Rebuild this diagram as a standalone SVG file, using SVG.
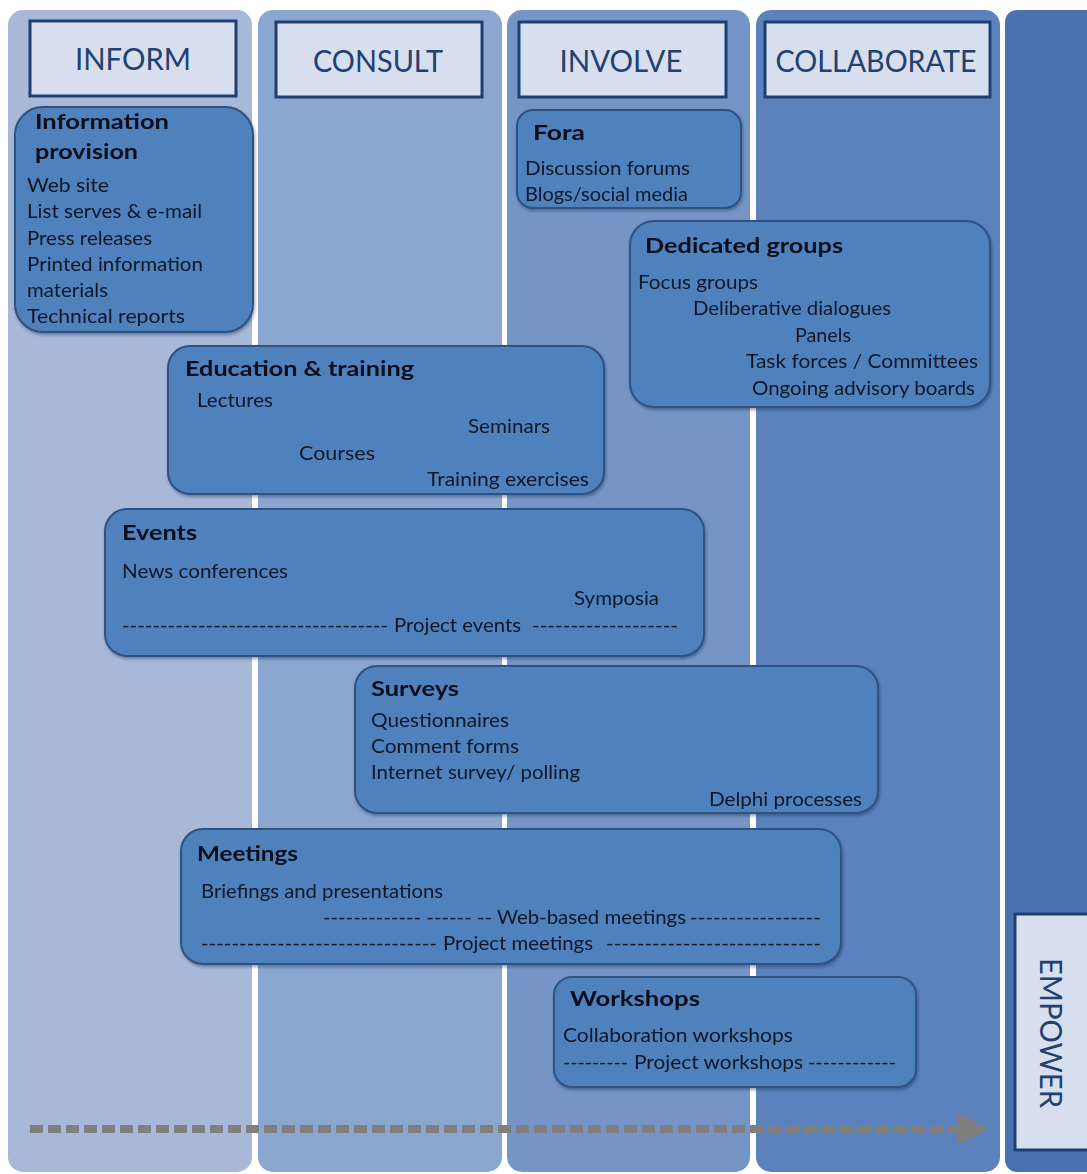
<svg xmlns="http://www.w3.org/2000/svg" width="1087" height="1174" viewBox="0 0 1087 1174">
<defs>
<style>
.hdr{fill:#d7dfee;stroke:#1f3f72;stroke-width:3}
.ht{font-family:Lato,"Open Sans",sans-serif;font-size:30px;fill:#23406e}
.box{fill:#4f81bd;stroke:#2e5283;stroke-width:2}
.t{font-family:Lato,"Open Sans",sans-serif;font-size:20px;fill:#101828}
.b{font-family:Lato,"Open Sans",sans-serif;font-size:21px;font-weight:700;fill:#0a0f1a}
</style>
<filter id="sh" x="-5%" y="-5%" width="110%" height="115%">
<feDropShadow dx="1" dy="2" stdDeviation="1.5" flood-color="#1a2f55" flood-opacity="0.45"/>
</filter>
<filter id="ash" x="-2%" y="-60%" width="104%" height="220%">
<feGaussianBlur stdDeviation="1.3"/>
</filter>
</defs>
<rect width="1087" height="1174" fill="#ffffff"/>
<g id="columns">
<rect x="8" y="10" width="244" height="1162" rx="15" fill="#a8b8d9"/>
<rect x="258" y="10" width="244" height="1162" rx="15" fill="#8ba6cf"/>
<rect x="507" y="10" width="243" height="1162" rx="15" fill="#7595c6"/>
<rect x="756" y="10" width="244" height="1162" rx="15" fill="#5b82bd"/>
<rect x="1005" y="10" width="110" height="1162" rx="12" fill="#4a72b0"/>
</g>
<g id="headers">
<g id="h-inform"><rect class="hdr" x="30" y="21" width="206" height="75"/><text class="ht" x="133" y="70" text-anchor="middle" textLength="116" lengthAdjust="spacingAndGlyphs">INFORM</text></g>
<g id="h-consult"><rect class="hdr" x="276" y="22" width="206" height="75"/><text class="ht" x="378" y="72" text-anchor="middle" textLength="130" lengthAdjust="spacingAndGlyphs">CONSULT</text></g>
<g id="h-involve"><rect class="hdr" x="519" y="22" width="207" height="75"/><text class="ht" x="621" y="72" text-anchor="middle" textLength="123" lengthAdjust="spacingAndGlyphs">INVOLVE</text></g>
<g id="h-collaborate"><rect class="hdr" x="765" y="22" width="225" height="75"/><text class="ht" x="876" y="72" text-anchor="middle" textLength="201" lengthAdjust="spacingAndGlyphs">COLLABORATE</text></g>
<g id="h-empower"><rect class="hdr" x="1015" y="914" width="90" height="236"/><text class="ht" transform="translate(1040,1033) rotate(90)" text-anchor="middle" textLength="150" lengthAdjust="spacingAndGlyphs">EMPOWER</text></g>
</g>
<g id="connectors">
<line x1="32" y1="1131" x2="960" y2="1131" stroke="#3a4f70" stroke-opacity="0.35" stroke-width="10" stroke-dasharray="13 5" filter="url(#ash)"/>
<line x1="30" y1="1129" x2="960" y2="1129" stroke="#7f7f7f" stroke-width="8" stroke-dasharray="13 5"/>
<polygon points="958,1113 989,1129 958,1145" fill="#7f7f7f"/>
</g>
<g id="n-info" filter="url(#sh)">
<rect class="box" x="15" y="107" width="238" height="225" rx="28"/>
<text class="b" x="35" y="129" textLength="134" lengthAdjust="spacingAndGlyphs">Information</text>
<text class="b" x="35" y="159" textLength="103" lengthAdjust="spacingAndGlyphs">provision</text>
<text class="t" x="27" y="192" textLength="82" lengthAdjust="spacingAndGlyphs">Web site</text>
<text class="t" x="27" y="218" textLength="175" lengthAdjust="spacingAndGlyphs">List serves &amp; e-mail</text>
<text class="t" x="27" y="245" textLength="125" lengthAdjust="spacingAndGlyphs">Press releases</text>
<text class="t" x="27" y="271" textLength="176" lengthAdjust="spacingAndGlyphs">Printed information</text>
<text class="t" x="27" y="297" textLength="81" lengthAdjust="spacingAndGlyphs">materials</text>
<text class="t" x="27" y="323" textLength="158" lengthAdjust="spacingAndGlyphs">Technical reports</text>
</g>
<g id="n-fora" filter="url(#sh)">
<rect class="box" x="517" y="110" width="224" height="98" rx="16"/>
<text class="b" x="533" y="140" textLength="52" lengthAdjust="spacingAndGlyphs">Fora</text>
<text class="t" x="525" y="175" textLength="165" lengthAdjust="spacingAndGlyphs">Discussion forums</text>
<text class="t" x="525" y="201" textLength="163" lengthAdjust="spacingAndGlyphs">Blogs/social media</text>
</g>
<g id="n-dedicated" filter="url(#sh)">
<rect class="box" x="630" y="221" width="360" height="186" rx="24"/>
<text class="b" x="645" y="253" textLength="198" lengthAdjust="spacingAndGlyphs">Dedicated groups</text>
<text class="t" x="638" y="289" textLength="120" lengthAdjust="spacingAndGlyphs">Focus groups</text>
<text class="t" x="693" y="315" textLength="198" lengthAdjust="spacingAndGlyphs">Deliberative dialogues</text>
<text class="t" x="795" y="342" textLength="56" lengthAdjust="spacingAndGlyphs">Panels</text>
<text class="t" x="746" y="368" textLength="232" lengthAdjust="spacingAndGlyphs">Task forces / Committees</text>
<text class="t" x="752" y="395" textLength="223" lengthAdjust="spacingAndGlyphs">Ongoing advisory boards</text>
</g>
<g id="n-education" filter="url(#sh)">
<rect class="box" x="168" y="346" width="436" height="148" rx="22"/>
<text class="b" x="185" y="376" textLength="229" lengthAdjust="spacingAndGlyphs">Education &amp; training</text>
<text class="t" x="197" y="407" textLength="76" lengthAdjust="spacingAndGlyphs">Lectures</text>
<text class="t" x="468" y="433" textLength="82" lengthAdjust="spacingAndGlyphs">Seminars</text>
<text class="t" x="299" y="460" textLength="76" lengthAdjust="spacingAndGlyphs">Courses</text>
<text class="t" x="427" y="486" textLength="162" lengthAdjust="spacingAndGlyphs">Training exercises</text>
</g>
<g id="n-events" filter="url(#sh)">
<rect class="box" x="105" y="509" width="599" height="147" rx="22"/>
<text class="b" x="122" y="540" textLength="75" lengthAdjust="spacingAndGlyphs">Events</text>
<text class="t" x="122" y="578" textLength="166" lengthAdjust="spacingAndGlyphs">News conferences</text>
<text class="t" x="574" y="605" textLength="85" lengthAdjust="spacingAndGlyphs">Symposia</text>
<text class="t" x="122" y="632" textLength="266" lengthAdjust="spacingAndGlyphs">-----------------------------------</text>
<text class="t" x="394" y="632" textLength="127" lengthAdjust="spacingAndGlyphs">Project events</text>
<text class="t" x="532" y="632" textLength="146" lengthAdjust="spacingAndGlyphs">-------------------</text>
</g>
<g id="n-surveys" filter="url(#sh)">
<rect class="box" x="355" y="666" width="523" height="147" rx="22"/>
<text class="b" x="371" y="696" textLength="88" lengthAdjust="spacingAndGlyphs">Surveys</text>
<text class="t" x="371" y="727" textLength="138" lengthAdjust="spacingAndGlyphs">Questionnaires</text>
<text class="t" x="371" y="753" textLength="148" lengthAdjust="spacingAndGlyphs">Comment forms</text>
<text class="t" x="371" y="779" textLength="209" lengthAdjust="spacingAndGlyphs">Internet survey/ polling</text>
<text class="t" x="709" y="806" textLength="153" lengthAdjust="spacingAndGlyphs">Delphi processes</text>
</g>
<g id="n-meetings" filter="url(#sh)">
<rect class="box" x="181" y="829" width="660" height="135" rx="22"/>
<text class="b" x="197" y="861" textLength="101" lengthAdjust="spacingAndGlyphs">Meetings</text>
<text class="t" x="201" y="898" textLength="242" lengthAdjust="spacingAndGlyphs">Briefings and presentations</text>
<text class="t" x="323" y="924" textLength="169" lengthAdjust="spacingAndGlyphs">------------- ------ --</text>
<text class="t" x="497" y="924" textLength="189" lengthAdjust="spacingAndGlyphs">Web-based meetings</text>
<text class="t" x="690" y="924" textLength="131" lengthAdjust="spacingAndGlyphs">-----------------</text>
<text class="t" x="201" y="950" textLength="236" lengthAdjust="spacingAndGlyphs">-------------------------------</text>
<text class="t" x="443" y="950" textLength="150" lengthAdjust="spacingAndGlyphs">Project meetings</text>
<text class="t" x="606" y="950" textLength="215" lengthAdjust="spacingAndGlyphs">----------------------------</text>
</g>
<g id="n-workshops" filter="url(#sh)">
<rect class="box" x="554" y="977" width="362" height="110" rx="18"/>
<text class="b" x="570" y="1006" textLength="130" lengthAdjust="spacingAndGlyphs">Workshops</text>
<text class="t" x="563" y="1042" textLength="230" lengthAdjust="spacingAndGlyphs">Collaboration workshops</text>
<text class="t" x="563" y="1069" textLength="65" lengthAdjust="spacingAndGlyphs">---------</text>
<text class="t" x="634" y="1069" textLength="169" lengthAdjust="spacingAndGlyphs">Project workshops</text>
<text class="t" x="808" y="1069" textLength="88" lengthAdjust="spacingAndGlyphs">------------</text>
</g>
</svg>
